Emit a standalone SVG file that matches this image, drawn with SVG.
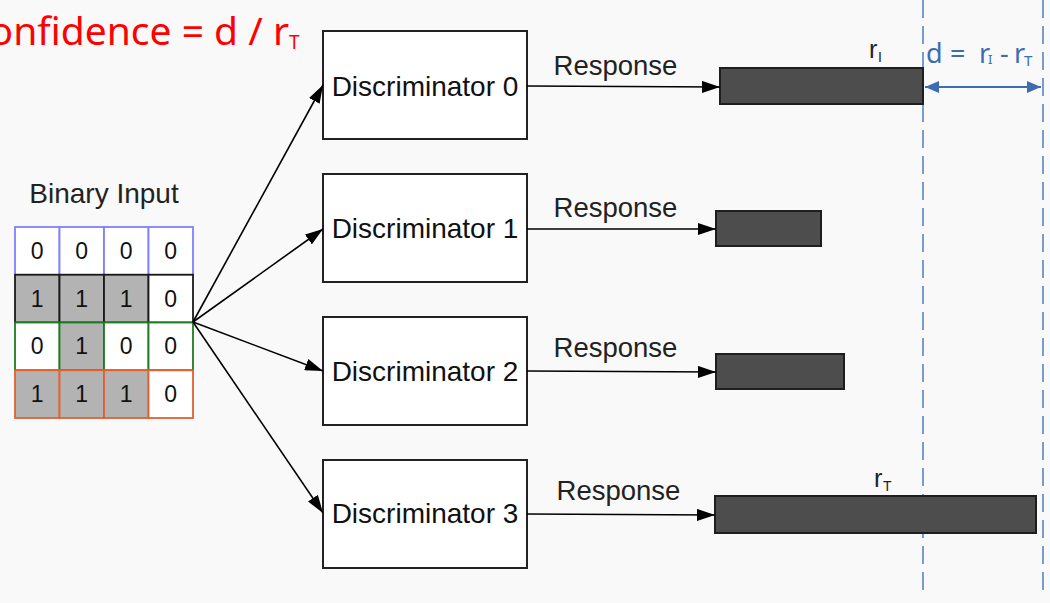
<svg xmlns="http://www.w3.org/2000/svg" width="1050" height="603" viewBox="0 0 1050 603">
<style>
.box{fill:#fff;stroke:#222;stroke-width:2}
.bar{fill:#4d4d4d;stroke:#1e1e1e;stroke-width:2}
.lbl{font-family:"Liberation Sans",Arial,sans-serif;font-size:28px;fill:#111}
.sans{font-family:"Liberation Sans",Arial,sans-serif;fill:#222}
.resp{font-family:"Liberation Sans",Arial,sans-serif;font-size:27.5px;fill:#222;text-anchor:middle}
.dig{font-family:"Liberation Sans",Arial,sans-serif;font-size:23px;fill:#111;text-anchor:middle}
.conn{stroke:#000;stroke-width:1.6;fill:none;marker-end:url(#ah)}
.dash{stroke:#5a86c2;stroke-width:1.6;stroke-dasharray:18 8;fill:none}
.g{fill:#b3b3b3}
.w{fill:#fff}
.geo{font-family:"Noto Sans","Open Sans",sans-serif}
.blue{fill:#3d6cb0}
</style>
<defs>
<marker id="ah" markerUnits="userSpaceOnUse" markerWidth="18" markerHeight="12" refX="18" refY="6" orient="auto">
<path d="M0,0 L18,6 L0,12 z" fill="#000"/>
</marker>
<marker id="bh" markerUnits="userSpaceOnUse" markerWidth="14" markerHeight="12" refX="14" refY="6" orient="auto-start-reverse">
<path d="M0,0 L14,6 L0,12 z" fill="#3d6cb0"/>
</marker>
</defs>
<rect x="0" y="0" width="1050" height="603" fill="#f9f9f9"/>

<g id="dashes">
<line class="dash" x1="923" y1="0" x2="923" y2="597"/>
<line class="dash" x1="1043" y1="0" x2="1043" y2="597"/>
</g>

<g id="title">
<text class="geo" x="289" y="45" font-size="39" fill="#ff0000" text-anchor="end">Confidence = d / r</text>
<text class="geo" x="289" y="49" font-size="19" fill="#ff0000">T</text>
</g>

<g id="binary-input">
<text class="sans" x="104" y="203" text-anchor="middle" font-size="28" fill="#333">Binary Input</text>
<g stroke="#8080ff" stroke-width="1.8">
<rect class="w" x="15" y="227" width="44.5" height="47.75"/>
<rect class="w" x="59.5" y="227" width="44.5" height="47.75"/>
<rect class="w" x="104" y="227" width="44.5" height="47.75"/>
<rect class="w" x="148.5" y="227" width="44.5" height="47.75"/>
</g>
<g stroke="#1a1a1a" stroke-width="1.8">
<rect class="g" x="15" y="274.75" width="44.5" height="47.75"/>
<rect class="g" x="59.5" y="274.75" width="44.5" height="47.75"/>
<rect class="g" x="104" y="274.75" width="44.5" height="47.75"/>
<rect class="w" x="148.5" y="274.75" width="44.5" height="47.75"/>
</g>
<g stroke="#1e7a1e" stroke-width="1.8">
<rect class="w" x="15" y="322.5" width="44.5" height="47.75"/>
<rect class="g" x="59.5" y="322.5" width="44.5" height="47.75"/>
<rect class="w" x="104" y="322.5" width="44.5" height="47.75"/>
<rect class="w" x="148.5" y="322.5" width="44.5" height="47.75"/>
</g>
<g stroke="#e2602e" stroke-width="1.8">
<rect class="g" x="15" y="370.25" width="44.5" height="47.75"/>
<rect class="g" x="59.5" y="370.25" width="44.5" height="47.75"/>
<rect class="g" x="104" y="370.25" width="44.5" height="47.75"/>
<rect class="w" x="148.5" y="370.25" width="44.5" height="47.75"/>
</g>
<text class="dig" x="37.25" y="259">0</text><text class="dig" x="81.75" y="259">0</text><text class="dig" x="126.25" y="259">0</text><text class="dig" x="170.75" y="259">0</text>
<text class="dig" x="37.25" y="307">1</text><text class="dig" x="81.75" y="307">1</text><text class="dig" x="126.25" y="307">1</text><text class="dig" x="170.75" y="307">0</text>
<text class="dig" x="37.25" y="354">0</text><text class="dig" x="81.75" y="354">1</text><text class="dig" x="126.25" y="354">0</text><text class="dig" x="170.75" y="354">0</text>
<text class="dig" x="37.25" y="402">1</text><text class="dig" x="81.75" y="402">1</text><text class="dig" x="126.25" y="402">1</text><text class="dig" x="170.75" y="402">0</text>
</g>

<g id="disc0"><rect class="box" x="323" y="31" width="204" height="108"/><text class="lbl" x="425" y="96" text-anchor="middle">Discriminator 0</text></g>
<g id="disc1"><rect class="box" x="323" y="174" width="204" height="108"/><text class="lbl" x="425" y="238" text-anchor="middle">Discriminator 1</text></g>
<g id="disc2"><rect class="box" x="323" y="317" width="204" height="108"/><text class="lbl" x="425" y="381" text-anchor="middle">Discriminator 2</text></g>
<g id="disc3"><rect class="box" x="323" y="460" width="204" height="108"/><text class="lbl" x="425" y="523" text-anchor="middle">Discriminator 3</text></g>

<g id="bar0"><rect class="bar" x="720" y="68" width="203" height="36"/></g>
<g id="bar1"><rect class="bar" x="716" y="211" width="105" height="35"/></g>
<g id="bar2"><rect class="bar" x="716" y="354" width="128" height="35"/></g>
<g id="bar3"><rect class="bar" x="715" y="496" width="321" height="37"/></g>

<g id="connectors">
<line class="conn" x1="193" y1="322" x2="323" y2="85"/>
<line class="conn" x1="193" y1="322" x2="323" y2="229"/>
<line class="conn" x1="193" y1="322" x2="323" y2="371"/>
<line class="conn" x1="193" y1="322" x2="323" y2="513"/>
<line class="conn" x1="527" y1="86" x2="720" y2="87"/>
<line class="conn" x1="527" y1="229" x2="716" y2="229"/>
<line class="conn" x1="527" y1="371" x2="716" y2="372"/>
<line class="conn" x1="527" y1="514" x2="715" y2="515"/>
<text class="resp" x="615.5" y="75">Response</text>
<text class="resp" x="615.5" y="217">Response</text>
<text class="resp" x="615.5" y="357">Response</text>
<text class="resp" x="618.5" y="500">Response</text>
<line x1="925" y1="87" x2="1041" y2="87" stroke="#3d6cb0" stroke-width="1.8" marker-start="url(#bh)" marker-end="url(#bh)"/>
</g>

<g id="labels">
<text class="sans" x="869" y="58" font-size="25">r</text>
<text class="sans" x="878" y="62" font-size="14">I</text>
<text class="sans" x="874" y="487" font-size="25">r</text>
<text class="sans" x="883" y="491" font-size="14">T</text>
<text class="geo blue" x="926" y="63" font-size="27">d</text>
<text class="geo blue" x="950" y="63" font-size="27">=</text>
<text class="geo blue" x="979" y="63" font-size="27">r</text>
<text class="geo blue" x="988" y="64" font-size="13">I</text>
<text class="geo blue" x="1000" y="63" font-size="27">-</text>
<text class="geo blue" x="1014" y="63" font-size="27">r</text>
<text class="geo blue" x="1024" y="66" font-size="15">T</text>
</g>
</svg>
